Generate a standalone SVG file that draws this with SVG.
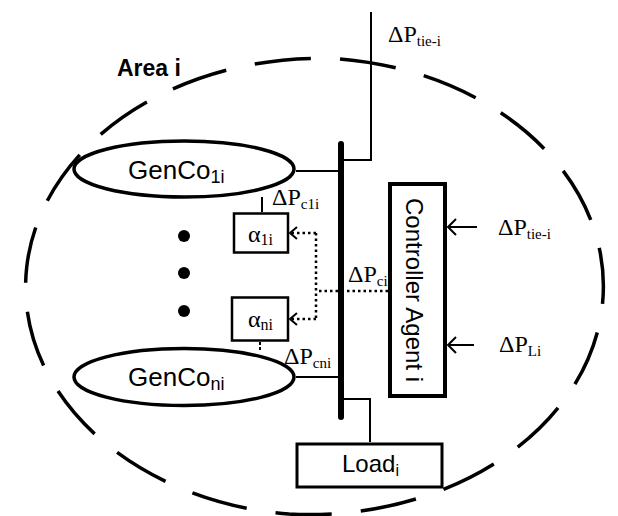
<svg xmlns="http://www.w3.org/2000/svg" width="618" height="516" viewBox="0 0 618 516">
<style>
.s{font-family:"Liberation Sans",Arial,sans-serif;fill:#000}
.t{font-family:"Liberation Serif","Times New Roman",serif;fill:#000}
.ln{stroke:#000;fill:none;stroke-width:2}
.dot{stroke:#000;fill:none;stroke-width:2.5;stroke-dasharray:2.5 3}
.box{stroke:#000;fill:#fff}
</style>
<defs>
<marker id="arr" markerWidth="12" markerHeight="18" refX="10" refY="9" orient="auto" markerUnits="userSpaceOnUse">
<path d="M2,1 L10,9 L2,17" fill="none" stroke="#000" stroke-width="2"/>
</marker>
<marker id="arrs" markerWidth="10" markerHeight="14" refX="8" refY="7" orient="auto" markerUnits="userSpaceOnUse">
<path d="M1,1 L8,7 L1,13" fill="none" stroke="#000" stroke-width="2"/>
</marker>
</defs>
<rect width="618" height="516" fill="#fff"/>
<g id="area">
<path d="M340,58.9 A294.5,228.5 0 0 1 289,514.1 A294.5,228.5 0 0 1 340,58.9" fill="none" stroke="#000" stroke-width="3.5" stroke-dasharray="58 30" pathLength="1672"/>
<text class="s" x="117" y="76" font-size="23" font-weight="bold">Area i</text>
</g>
<g id="bus">
<line x1="341" y1="144" x2="341" y2="417" stroke="#000" stroke-width="6" stroke-linecap="round"/>
</g>
<g id="genco1">
<ellipse cx="184" cy="169" rx="110" ry="28" class="box" stroke-width="3.5"/>
<text class="s" x="128" y="179" font-size="26">GenCo<tspan font-size="18" dy="4">1i</tspan></text>
</g>
<g id="gencon">
<ellipse cx="184" cy="377" rx="110" ry="28.5" class="box" stroke-width="3.5"/>
<text class="s" x="128" y="386" font-size="26">GenCo<tspan font-size="18" dy="4">ni</tspan></text>
</g>
<g id="dots">
<circle cx="184" cy="236" r="6"/>
<circle cx="184" cy="273" r="6"/>
<circle cx="184" cy="311" r="6"/>
</g>
<g id="alpha1">
<rect x="234" y="213.5" width="54" height="39" class="box" stroke-width="2.5"/>
<text class="t" x="248" y="242" font-size="24">α<tspan font-size="16" dy="3">1i</tspan></text>
</g>
<g id="alphan">
<rect x="232" y="297.5" width="56" height="43" class="box" stroke-width="2.5"/>
<text class="t" x="248" y="327" font-size="24">α<tspan font-size="16" dy="3">ni</tspan></text>
</g>
<g id="controller">
<rect x="390" y="184" width="55" height="212" class="box" stroke-width="4"/>
<text class="s" font-size="24" text-anchor="middle" transform="translate(406,290) rotate(90)">Controller Agent i</text>
</g>
<g id="load">
<rect x="297" y="444" width="145" height="43" class="box" stroke-width="3"/>
<text class="s" x="342" y="472" font-size="24">Load<tspan font-size="16" dy="4">i</tspan></text>
</g>
<g id="connectors">
<path class="ln" d="M371,12 V160 H343"/>
<path class="ln" d="M296,171 H339"/>
<path class="ln" d="M296,377 H339"/>
<path class="ln" d="M262,197 V212"/>
<path class="ln" d="M260,342 V350" stroke-dasharray="3 2" stroke-width="1.5"/>
<path class="ln" stroke-width="3" d="M343,399 H370 V442"/>
<path class="dot" d="M388,291 H344"/>
<path class="dot" d="M338,291 H316"/>
<path class="dot" d="M316,233 V319"/>
<path class="dot" d="M316,233 H290" marker-end="url(#arrs)"/>
<path class="dot" d="M316,319 H290" marker-end="url(#arrs)"/>
<path class="ln" d="M477,227 H448" marker-end="url(#arr)"/>
<path class="ln" d="M474,345 H448" marker-end="url(#arr)"/>
<text class="t" x="388" y="42" font-size="24">ΔP<tspan font-size="15" dy="4">tie-i</tspan></text>
<text class="t" x="272" y="205" font-size="24">ΔP<tspan font-size="15" dy="4">c1i</tspan></text>
<text class="t" x="348" y="282" font-size="24">ΔP<tspan font-size="15" dy="4">ci</tspan></text>
<text class="t" x="284" y="364" font-size="24">ΔP<tspan font-size="15" dy="4">cni</tspan></text>
<text class="t" x="498" y="235" font-size="24">ΔP<tspan font-size="15" dy="4">tie-i</tspan></text>
<text class="t" x="499" y="352" font-size="24">ΔP<tspan font-size="15" dy="4">Li</tspan></text>
</g>
</svg>
